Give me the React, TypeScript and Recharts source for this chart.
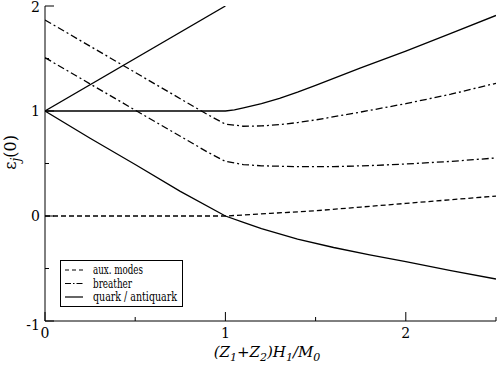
import { LineChart, Line, XAxis, YAxis } from 'recharts'

const FONT = 'DejaVu Serif, Liberation Serif, serif'

// x positions (Z1+Z2)H1/M0 and values eps_j(0)
const quarkRiseX = [0, 1]
const quarkRiseY = [1, 2]

const quarkMidX = [0, 0.5, 1.0, 1.05, 1.1, 1.2, 1.3, 1.4, 1.5, 1.75, 2.0, 2.25, 2.5]
const quarkMidY = [1, 1, 1.0, 1.01, 1.03, 1.07, 1.12, 1.18, 1.245, 1.41, 1.57, 1.74, 1.91]

const quarkLowX = [0, 0.25, 0.5, 0.75, 1.0, 1.1, 1.2, 1.4, 1.6, 1.8, 2.0, 2.25, 2.5]
const quarkLowY = [1, 0.74, 0.49, 0.235, 0.0, -0.06, -0.12, -0.22, -0.3, -0.37, -0.435, -0.52, -0.6]

const auxX = [0, 0.5, 1.0, 1.1, 1.25, 1.5, 1.75, 2.0, 2.25, 2.5]
const auxY = [0, 0, 0, 0.01, 0.025, 0.05, 0.085, 0.12, 0.155, 0.19]

const breather1X = [0, 0.5, 0.9, 1.0, 1.1, 1.2, 1.3, 1.4, 1.5, 1.75, 2.0, 2.25, 2.5]
const breather1Y = [1.867, 1.367, 0.967, 0.875, 0.855, 0.858, 0.87, 0.89, 0.915, 0.99, 1.07, 1.16, 1.264]

const breather2X = [0, 0.5, 0.9, 1.0, 1.1, 1.2, 1.4, 1.6, 1.8, 2.0, 2.25, 2.5]
const breather2Y = [1.508, 1.008, 0.61, 0.52, 0.49, 0.478, 0.47, 0.47, 0.48, 0.495, 0.52, 0.553]

const xTicks = [0, 0.5, 1, 1.5, 2, 2.5]
const yTicks = [-1, -0.5, 0, 0.5, 1, 1.5, 2]
const xLabelTicks = [0, 1, 2]
const yLabelTicks = [-1, 0, 1, 2]

const legendItems = [
  { label: 'aux. modes', dash: '4 3', len: 50 },
  { label: 'breather', dash: '6 2 1.5 2', len: 39 },
  { label: 'quark / antiquark', dash: undefined, len: 84 },
]

const zip = (xs: number[], ys: number[]) => xs.map((x, i) => ({ x, y: ys[i] }))

const isMajor = (v: number) => Number.isInteger(v)

function BottomTick({ x, y, payload }: any) {
  const v = payload.value
  const len = isMajor(v) ? 9 : 4
  return (
    <g>
      <line x1={x} y1={y} x2={x} y2={y - len} stroke="#000" />
      {xLabelTicks.includes(v) && (
        <text x={x} y={y + 17} textAnchor="middle" fontFamily={FONT} fontSize={14} fill="#000">
          {v}
        </text>
      )}
    </g>
  )
}

function TopTick({ x, y, payload }: any) {
  const len = isMajor(payload.value) ? 9 : 4
  return <line x1={x} y1={y} x2={x} y2={y + len} stroke="#000" />
}

function LeftTick({ x, y, payload }: any) {
  const v = payload.value
  const len = isMajor(v) ? 9 : 4
  return (
    <g>
      <line x1={x} y1={y} x2={x + len} y2={y} stroke="#000" />
      {yLabelTicks.includes(v) && (
        <text x={x - 5} y={v === -1 ? y + 9 : v === 2 ? y + 6 : y + 5} textAnchor="end" fontFamily={FONT} fontSize={14} fill="#000">
          {v}
        </text>
      )}
    </g>
  )
}

function RightTick({ x, y, payload }: any) {
  const len = isMajor(payload.value) ? 9 : 4
  return <line x1={x} y1={y} x2={x - len} y2={y} stroke="#000" />
}

function XTitle() {
  return (
    <text x={267} y={357} textAnchor="middle" fontFamily={FONT} fontSize={15} fontStyle="italic" fill="#000">
      (Z<tspan fontSize={11} dy={4}>1</tspan>
      <tspan dy={-4}>+Z</tspan><tspan fontSize={11} dy={4}>2</tspan>
      <tspan dy={-4}>)H</tspan><tspan fontSize={11} dy={4}>1</tspan>
      <tspan dy={-4}>/M</tspan><tspan fontSize={11} dy={4}>0</tspan>
    </text>
  )
}

function YTitle() {
  return (
    <text
      x={16}
      y={135}
      transform="rotate(-90, 16, 135)"
      textAnchor="end"
      fontFamily={FONT}
      fontSize={16}
      fill="#000"
    >
      ε<tspan fontSize={12} fontStyle="italic" dy={4}>j</tspan>
      <tspan dy={-4}>(0)</tspan>
    </text>
  )
}

function LegendBox() {
  return (
    <svg width={180} height={48} style={{ position: 'absolute', left: 60, top: 260 }}>
      <rect x={0.5} y={0.5} width={122} height={46} fill="#fff" stroke="#000" />
      {legendItems.map((it, i) => (
        <g key={it.label}>
          <line x1={5} x2={23} y1={10 + i * 13.5} y2={10 + i * 13.5} stroke="#000" strokeWidth={1.2} strokeDasharray={it.dash} />
          <text
            x={33}
            y={14 + i * 13.5}
            textLength={it.len}
            lengthAdjust="spacingAndGlyphs"
            fontFamily={FONT}
            fontSize={12}
            fill="#000"
          >
            {it.label}
          </text>
        </g>
      ))}
    </svg>
  )
}

const series = [
  { key: 'qr', data: zip(quarkRiseX, quarkRiseY), dash: undefined },
  { key: 'qm', data: zip(quarkMidX, quarkMidY), dash: undefined },
  { key: 'ql', data: zip(quarkLowX, quarkLowY), dash: undefined },
  { key: 'aux', data: zip(auxX, auxY), dash: '5 3' },
  { key: 'b1', data: zip(breather1X, breather1Y), dash: '7 3 2 3' },
  { key: 'b2', data: zip(breather2X, breather2Y), dash: '7 3 2 3' },
]

export default function App() {
  return (
    <div style={{ position: 'absolute', left: 0, top: 0, width: 498, height: 365, background: '#fff' }}>
      <LineChart width={498} height={365} margin={{ top: 6, right: 2, bottom: 0, left: 0 }}>
        <XAxis
          xAxisId="b"
          type="number"
          dataKey="x"
          domain={[0, 2.5]}
          ticks={xTicks}
          interval={0}
          height={44}
          tickSize={0}
          tickMargin={0}
          tickLine={false}
          axisLine={{ stroke: '#000' }}
          tick={<BottomTick />}
          allowDataOverflow
          label={<XTitle />}
        />
        <XAxis
          xAxisId="t"
          orientation="top"
          type="number"
          dataKey="x"
          domain={[0, 2.5]}
          ticks={xTicks}
          interval={0}
          height={0}
          tickSize={0}
          tickMargin={0}
          tickLine={false}
          axisLine={{ stroke: '#000' }}
          tick={<TopTick />}
          allowDataOverflow
        />
        <YAxis
          yAxisId="l"
          type="number"
          domain={[-1, 2]}
          ticks={yTicks}
          interval={0}
          width={45}
          tickSize={0}
          tickMargin={0}
          tickLine={false}
          axisLine={{ stroke: '#000' }}
          tick={<LeftTick />}
          allowDataOverflow
          label={<YTitle />}
        />
        <YAxis
          yAxisId="r"
          orientation="right"
          type="number"
          domain={[-1, 2]}
          ticks={yTicks}
          interval={0}
          width={0}
          tickSize={0}
          tickMargin={0}
          tickLine={false}
          axisLine={{ stroke: '#000' }}
          tick={<RightTick />}
          allowDataOverflow
        />
        {series.map((s) => (
          <Line
            key={s.key}
            xAxisId="b"
            yAxisId="l"
            data={s.data}
            dataKey="y"
            type="linear"
            stroke="#000"
            strokeWidth={1.3}
            strokeDasharray={s.dash}
            dot={false}
            activeDot={false}
            isAnimationActive={false}
          />
        ))}
      </LineChart>
      <LegendBox />
    </div>
  )
}
